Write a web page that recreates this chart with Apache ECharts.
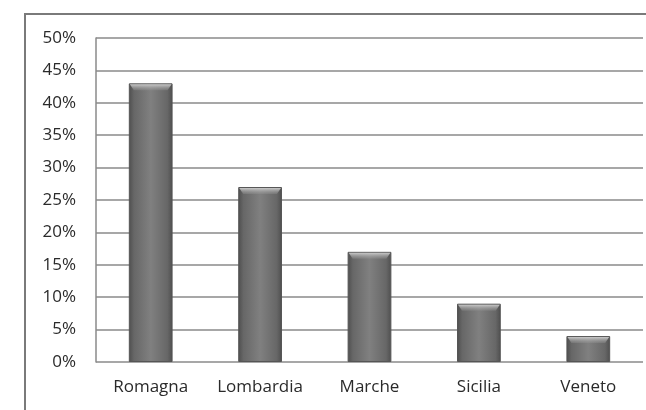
<!DOCTYPE html>
<html>
<head>
<meta charset="utf-8">
<script src="https://cdn.jsdelivr.net/npm/echarts@6/dist/echarts.min.js"></script>
<style>
  html, body { margin: 0; padding: 0; background: #fff; overflow: hidden; }
  #frame { position: absolute; left: 24px; top: 13px; width: 700px; height: 500px;
           border: 2px solid #7a7a7a; box-sizing: border-box; }
  #chart { position: absolute; left: 0; top: 0; width: 646px; height: 410px; }
</style>
</head>
<body>
<div id="frame"></div>
<div id="chart"></div>
<script>
const regions = ['Romagna', 'Lombardia', 'Marche', 'Sicilia', 'Veneto'];
const shares = [43, 27, 17, 9, 4];

const labelFont = { color: '#2a2a2a', fontSize: 17, fontFamily: 'Open Sans' };

const chart = echarts.init(document.getElementById('chart'));
chart.setOption({
  animation: false,
  grid: { left: 96, right: 3, top: 38, bottom: 48, containLabel: false },
  xAxis: {
    type: 'category',
    data: regions,
    axisLine: { show: false },
    axisTick: { show: false },
    axisLabel: Object.assign({ margin: 17, interval: 0, hideOverlap: false }, labelFont)
  },
  yAxis: {
    type: 'value',
    min: 0, max: 50, interval: 5,
    axisLine: { show: true, lineStyle: { color: '#8a8a8a', width: 1.5 } },
    axisTick: { show: false },
    axisLabel: Object.assign({ formatter: '{value}%', margin: 20 }, labelFont),
    splitLine: { lineStyle: { color: '#8a8a8a', width: 1.5 } }
  },
  series: [{
    type: 'bar',
    data: shares,
    barWidth: '40%',
    itemStyle: {
      color: new echarts.graphic.LinearGradient(0, 0, 1, 0, [
        { offset: 0, color: '#4e4e4e' },
        { offset: 0.12, color: '#676767' },
        { offset: 0.5, color: '#808080' },
        { offset: 0.88, color: '#676767' },
        { offset: 1, color: '#4e4e4e' }
      ]),
      borderColor: '#555',
      borderWidth: 1
    }
  }, {
    // bevelled highlight along the top of each bar
    type: 'custom',
    data: shares.map((v, i) => [i, v]),
    renderItem: function (params, api) {
      const top = api.coord([api.value(0), api.value(1)]);
      const w = api.size([1, 0])[0] * 0.4;
      const x0 = top[0] - w / 2, y0 = top[1];
      return {
        type: 'polygon',
        shape: { points: [[x0 + 1, y0 + 1], [x0 + w - 1, y0 + 1], [x0 + w - 5, y0 + 7], [x0 + 5, y0 + 7]] },
        style: {
          fill: new echarts.graphic.LinearGradient(0, 0, 0, 1, [
            { offset: 0, color: 'rgba(205,205,205,0.95)' },
            { offset: 1, color: 'rgba(150,150,150,0.3)' }
          ])
        }
      };
    },
    z: 3
  }]
});
</script>
</body>
</html>
